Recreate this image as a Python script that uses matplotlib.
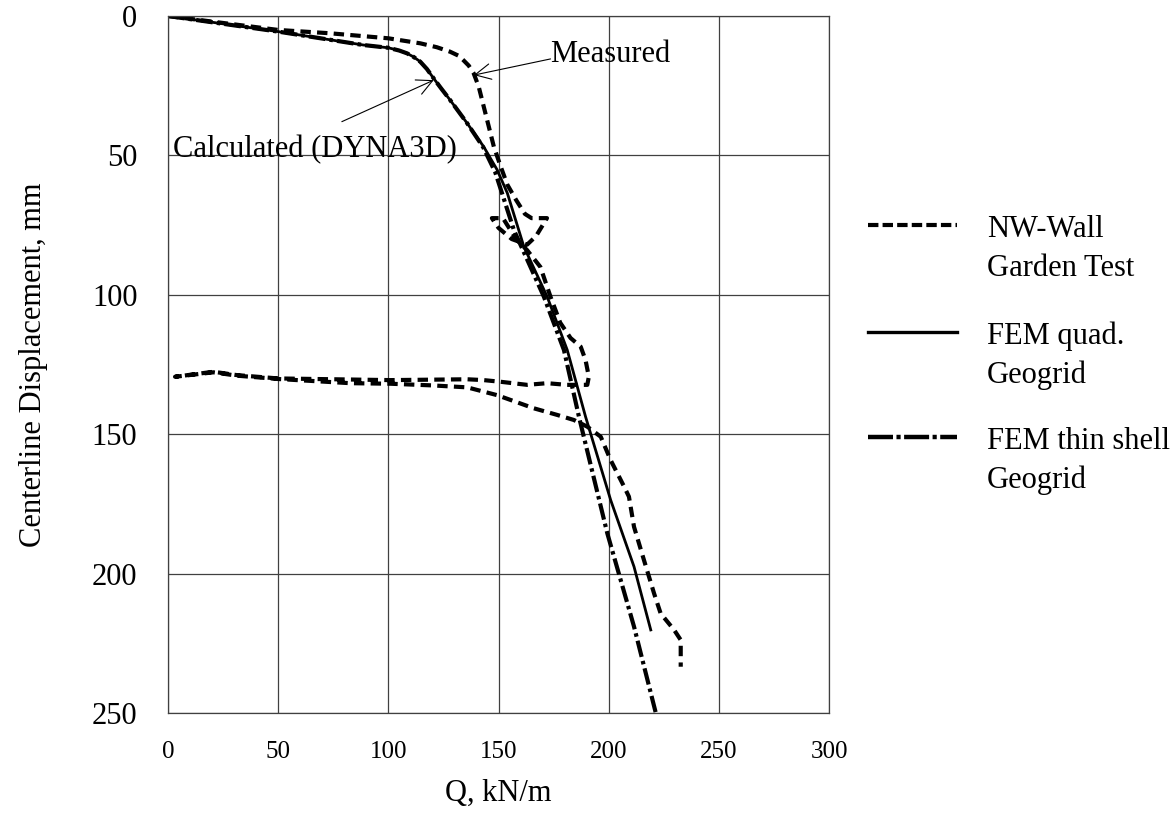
import matplotlib
matplotlib.use('Agg')
import matplotlib.pyplot as plt
from matplotlib.lines import Line2D

plt.rcParams['font.family'] = ['Liberation Serif', 'DejaVu Serif']
plt.rcParams['lines.scale_dashes'] = False

# NW-Wall Garden Test (measured): load, small cycle, unload, reload
meas_q = [0, 50, 73.6, 100, 114.5, 122, 128, 132, 134, 136.5, 138.7, 141, 143.3, 145.6, 147.9, 151, 154, 158, 162,
          165, 172, 167, 163, 156, 150, 147, 152, 158, 163, 169, 173.6, 178, 182.7, 187.3, 189.5,
          191, 190.3, 181, 172, 163, 151, 143.3, 135.8, 100.9, 50, 31.2, 20.6, 3.2,
          20.6, 31.2, 50, 82.7, 101, 120, 135.8, 149.4, 166, 176.7, 184.2, 190.3, 196.4, 200.9,
          207, 209.2, 211.5, 216, 220.6, 223.6, 229.7, 232.7, 232.7]
meas_d = [0, 5, 6.2, 8.0, 9.8, 11.2, 12.8, 14.3, 15.8, 17.8, 20.5, 25.3, 32.5, 39.7, 46.9, 54, 60.5, 66, 71,
          72.5, 72.5, 79, 82, 80, 76, 72.5, 72.5, 80, 84, 90, 100.7, 110, 115.5, 118.6, 123.4,
          129.4, 132.3, 132.3, 131.7, 132.3, 131.2, 130.6, 130.3, 130.6, 130, 128.8, 127.6, 129.4,
          127.8, 129, 130.2, 131.7, 131.9, 132.5, 133.2, 136, 140.7, 143.1, 144.9, 147.3, 150.9, 159.3,
          168.8, 172.4, 183.2, 195.1, 207.1, 214.3, 220.2, 223.8, 233.4]

# FEM quad. Geogrid
quad_q = [0, 50, 88.6, 100, 105, 108.5, 111.5, 114.5, 117.5, 120.5, 124, 128, 135.8, 143.3, 149.4, 154, 161.5, 172.1,
          181.2, 189.5, 200.9, 211.5, 219.1]
quad_d = [0, 5.6, 10.4, 11.4, 12.4, 13.4, 14.7, 16.4, 19.0, 22.3, 26.0, 30.1, 38.5, 46.9, 55.2, 63.5, 82.7, 100.7,
          119.8, 143.7, 173.6, 197.5, 220.2]

# FEM thin shell Geogrid
shell_q = [0, 50, 88.6, 100, 105, 108.5, 111.5, 114.5, 117.5, 120.5, 124, 128, 135.8, 143, 148.5, 157, 170.6, 179.7,
           186.5, 199.4, 211.5, 221.4]
shell_d = [0, 5.6, 10.4, 11.4, 12.4, 13.4, 14.7, 16.4, 19.0, 22.3, 26.0, 30.1, 38.5, 47, 56, 76.8, 100.7, 119.8,
           143.7, 185.6, 219, 250]

x_ticks = [0, 50, 100, 150, 200, 250, 300]
y_ticks = [0, 50, 100, 150, 200, 250]

# annotation anchors (Q, displacement)
meas_tip, meas_tail, meas_txt = (138.8, 21.2), (173.6, 15.4), (173.6, 16.5)
calc_tip, calc_tail, calc_txt = (120.6, 23.0), (78.9, 37.9), (2.3, 50.6)

fig = plt.figure(figsize=(11.76, 8.16), dpi=100)
ax = fig.add_axes([168 / 1176, 1 - 713 / 816, 661 / 1176, 697 / 816])

ax.plot(shell_q, shell_d, color='black', lw=3.0, dashes=(12, 3, 2.5, 3))
ax.plot(quad_q, quad_d, color='black', lw=2.0)
ax.plot(meas_q, meas_d, color='black', lw=3.0, dashes=(7.5, 4.5))

ax.set_xlim(0, 300)
ax.set_ylim(250, 0)
ax.set_xticks(x_ticks)
ax.set_yticks(y_ticks)
ax.grid(True, color='#404040', lw=0.9)
for s in ax.spines.values():
    s.set_color('#404040')
    s.set_linewidth(0.9)
ax.tick_params(axis='both', length=0)
ax.tick_params(axis='x', labelsize=18, pad=20)
ax.tick_params(axis='y', labelsize=22, pad=22)

ax.set_xlabel('Q, kN/m', fontsize=22)
ax.xaxis.set_label_coords(0.5, -0.095)
ax.set_ylabel('Centerline Displacement, mm', fontsize=22)
ax.yaxis.set_label_coords(-0.182, 0.5)

arr = dict(arrowstyle='->', lw=0.8, color='black', shrinkA=0, shrinkB=0, mutation_scale=28)
ax.annotate('', xy=meas_tip, xytext=meas_tail, arrowprops=arr)
ax.annotate('', xy=calc_tip, xytext=calc_tail, arrowprops=arr)
ax.text(meas_txt[0], meas_txt[1], 'Measured', fontsize=22, va='baseline', ha='left')
ax.text(calc_txt[0], calc_txt[1], 'Calculated (DYNA3D)', fontsize=22, va='baseline', ha='left')

# legend drawn beside the axes
leg_styles = [dict(lw=3.0, dashes=(7.5, 3)), dict(lw=2.4), dict(lw=3.2, dashes=(18, 2.5, 3, 2.5))]
leg_labels = [('NW-Wall', 'Garden Test'), ('FEM quad.', 'Geogrid'), ('FEM thin shell', 'Geogrid')]
leg_y = [225, 332, 437]
for st, (l1, l2), y in zip(leg_styles, leg_labels, leg_y):
    fig.add_artist(Line2D([868 / 1176, 957 / 1176], [1 - y / 816, 1 - y / 816],
                          color='black', transform=fig.transFigure, **st))
    fig.text(987 / 1176, 1 - (y + 12) / 816, l1, fontsize=22, va='baseline')
    fig.text(987 / 1176, 1 - (y + 51) / 816, l2, fontsize=22, va='baseline')

fig.savefig('out.png', dpi=100)
